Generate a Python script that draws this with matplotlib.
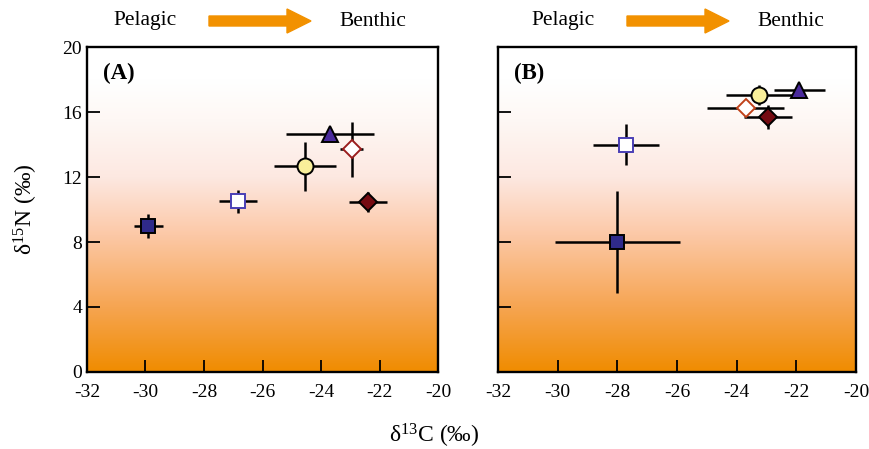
import numpy as np
import matplotlib
matplotlib.use("Agg")
import matplotlib.pyplot as plt
from matplotlib.colors import LinearSegmentedColormap
from matplotlib.patches import FancyArrow

plt.rcParams['font.family'] = ['Liberation Serif', 'DejaVu Serif']
plt.rcParams['axes.unicode_minus'] = False
plt.rcParams['mathtext.fontset'] = 'custom'
plt.rcParams['mathtext.rm'] = 'Liberation Serif'

# group order: dark square, open square, circle, triangle, open diamond, filled diamond
marker_list = ['s', 's', 'o', '^', 'D', 'D']
face_list = ['#2f2a8a', 'white', '#f9ef9a', '#4a2a9c', 'white', '#750b12']
edge_a = ['black', '#4a3fb5', 'black', 'black', '#9a1e1e', 'black']
edge_b = ['black', '#4a3fb5', 'black', 'black', '#c0421a', 'black']
size_list = [10.5, 10.5, 11.5, 11.5, 9.5, 9.5]

# Panel A values
c13_a = [-29.9, -26.85, -24.55, -23.7, -22.95, -22.4]
n15_a = [9.0, 10.5, 12.65, 14.65, 13.7, 10.45]
c13_err_a = [0.5, 0.65, 1.05, 1.5, 0.4, 0.65]
n15_err_a = [0.75, 0.7, 1.5, 0.3, 1.7, 0.6]

# Panel B values
c13_b = [-28.0, -27.7, -23.25, -21.9, -23.7, -22.95]
n15_b = [8.0, 14.0, 17.05, 17.35, 16.25, 15.7]
c13_err_b = [2.1, 1.1, 1.1, 0.85, 1.3, 0.8]
n15_err_b = [3.15, 1.25, 0.6, 0.3, 0.5, 0.75]

xticks = [-32, -30, -28, -26, -24, -22, -20]
yticks = [0, 4, 8, 12, 16, 20]

grad = LinearSegmentedColormap.from_list('bg', [
    (0.0, '#f08c00'), (0.2, '#f6a552'), (0.42, '#fcc8a6'),
    (0.6, '#fde8e1'), (0.78, '#fef8f5'), (0.9, '#ffffff'), (1.0, '#ffffff')])

fig = plt.figure(figsize=(8.69, 4.49), dpi=100)
ax_a = fig.add_axes([0.1001, 0.1715, 0.404, 0.7238])
ax_b = fig.add_axes([0.573, 0.1715, 0.412, 0.7238])


def draw_panel(ax, xs, ys, xe, ye, edges, label):
    g = np.linspace(0, 1, 256).reshape(-1, 1)
    ax.imshow(g, cmap=grad, origin='lower', aspect='auto',
              extent=[-32, -20, 0, 20], zorder=0)
    for i in range(len(xs)):
        ax.errorbar(xs[i], ys[i], xerr=xe[i], yerr=ye[i], fmt='none',
                    ecolor='black', elinewidth=1.8, capsize=0, zorder=2)
    for i in range(len(xs)):
        ax.plot(xs[i], ys[i], marker=marker_list[i], markersize=size_list[i],
                markerfacecolor=face_list[i], markeredgecolor=edges[i],
                markeredgewidth=1.4, linestyle='none', zorder=3)
    ax.set_xlim(-32, -20)
    ax.set_ylim(0, 20)
    ax.set_xticks(xticks)
    ax.set_yticks(yticks)
    ax.tick_params(direction='in', length=9, width=1.3, labelsize=14,
                   top=False, right=False)
    ax.tick_params(axis='x', pad=9)
    for s in ax.spines.values():
        s.set_linewidth(1.7)
    ax.text(0.045, 0.95, label, transform=ax.transAxes, fontsize=16.5,
            fontweight='bold', va='top', ha='left')


draw_panel(ax_a, c13_a, n15_a, c13_err_a, n15_err_a, edge_a, '(A)')
draw_panel(ax_b, c13_b, n15_b, c13_err_b, n15_err_b, edge_b, '(B)')
ax_b.set_yticklabels([])

ax_a.set_ylabel('δ$\\mathregular{^{15}}$N (‰)', fontsize=17, labelpad=16)
fig.text(0.5, 0.03, 'δ$\\mathregular{^{13}}$C (‰)', fontsize=17,
         ha='center', va='center')

# Pelagic -> Benthic headers
for x0 in [145, 563]:
    fig.text(x0 / 869, 1 - 21 / 449, 'Pelagic', fontsize=15.5, ha='center', va='center')
    fig.text((x0 + 228) / 869, 1 - 21 / 449, 'Benthic', fontsize=15.5, ha='center', va='center')
    arr = FancyArrow((x0 + 64) / 869, 1 - 21 / 449, 102 / 869, 0,
                     width=10 / 449, head_width=24 / 449, head_length=24 / 869,
                     length_includes_head=True, color='#f29100',
                     transform=fig.transFigure)
    fig.patches.append(arr)

fig.savefig('out.png', dpi=100)
